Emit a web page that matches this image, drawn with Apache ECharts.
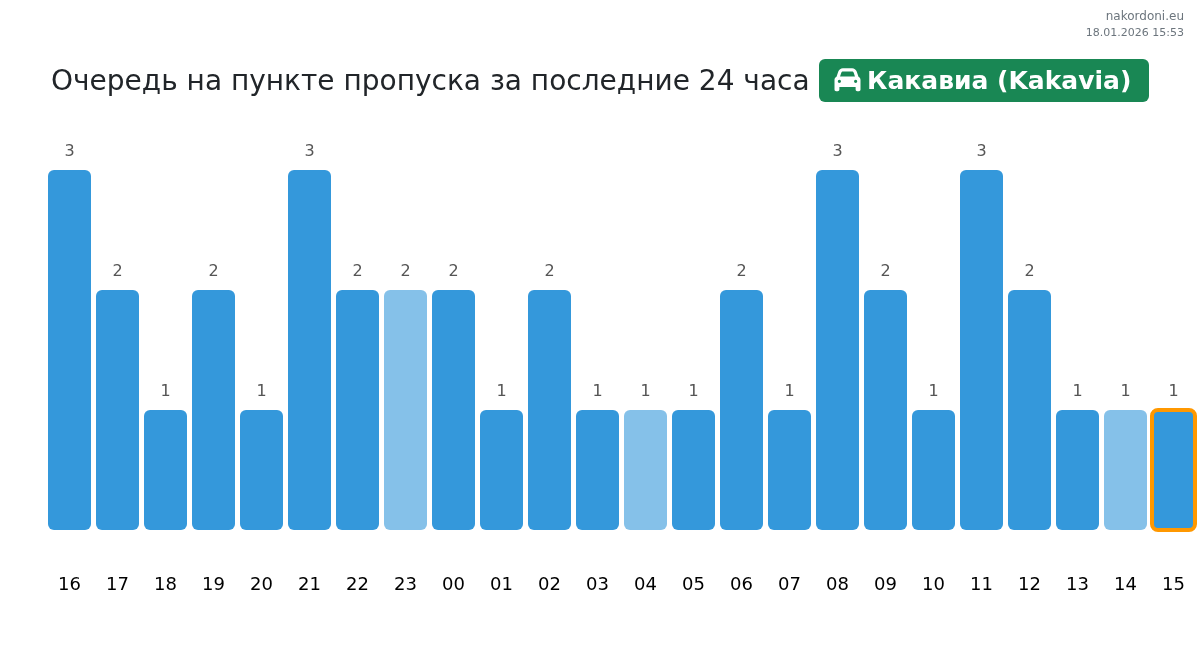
<!DOCTYPE html>
<html>
<head>
<meta charset="utf-8">
<title>Очередь на пункте пропуска</title>
<style>
  html, body { margin: 0; padding: 0; background: #fff; }
  #chart { width: 1200px; height: 651px; }
</style>
<script src="https://cdn.jsdelivr.net/npm/echarts@6/dist/echarts.min.js"></script>
</head>
<body>
<div id="chart"></div>
<script>
  const hours = ['16', '17', '18', '19', '20', '21', '22', '23', '00', '01', '02', '03', '04', '05', '06', '07', '08', '09', '10', '11', '12', '13', '14', '15']
  const queue = [3, 2, 1, 2, 1, 3, 2, 2, 2, 1, 2, 1, 1, 1, 2, 1, 3, 2, 1, 3, 2, 1, 1, 1]
  const lightHours = ['23', '04', '14']
  const currentHour = '15'

  const titleText = 'Очередь на пункте пропуска за последние 24 часа'
  const badgeText = 'Какавиа (Kakavia)'
  const siteText = 'nakordoni.eu'
  const dateText = '18.01.2026 15:53'

  const FONT = '"DejaVu Sans", sans-serif'
  const BAR_W = 43
  const CAR = 'M135.2 117.4L109.1 192H402.9l-26.1-74.6C372.3 104.6 360.2 96 346.6 96H165.4c-13.6 0-25.7 8.6-30.2 21.4zM39.6 196.8L74.8 96.3C88.3 57.8 124.6 32 165.4 32H346.6c40.8 0 77.1 25.8 90.6 64.3l35.2 100.5c23.2 9.6 39.6 32.5 39.6 59.2V400v48c0 17.7-14.3 32-32 32H448c-17.7 0-32-14.3-32-32V400H96v48c0 17.7-14.3 32-32 32H32c-17.7 0-32-14.3-32-32V400 256c0-26.7 16.4-49.6 39.6-59.2zM128 288a32 32 0 1 0 -64 0 32 32 0 1 0 64 0zm288 32a32 32 0 1 0 0-64 32 32 0 1 0 0 64z'

  const barData = queue.map((v, i) => ({
    value: v,
    itemStyle: { color: lightHours.includes(hours[i]) ? '#85c1e9' : '#3498db' }
  }))

  const currentIdx = hours.indexOf(currentHour)

  // outline of the current hour, bar series would shrink it by the border width
  function renderOutline (params, api) {
    const top = api.coord([api.value(0), api.value(1)])
    const base = api.coord([api.value(0), 0])
    return {
      type: 'rect',
      shape: { x: top[0] - BAR_W / 2, y: top[1], width: BAR_W, height: base[1] - top[1], r: 6 },
      style: { fill: 'none', stroke: '#ff9800', lineWidth: 4 }
    }
  }

  const chart = echarts.init(document.querySelector('#chart'), null, { renderer: 'canvas' })
  chart.setOption({
    animation: false,
    backgroundColor: '#fff',
    textStyle: { fontFamily: FONT },
    grid: { left: 45.5, right: 2.5, top: 170, bottom: 121 },
    xAxis: {
      type: 'category',
      data: hours,
      axisLine: { show: false },
      axisTick: { show: false },
      axisLabel: { color: '#000', fontSize: 18, margin: 46, fontFamily: FONT, interval: 0 }
    },
    yAxis: { type: 'value', min: 0, max: 3, interval: 1, show: false },
    series: [{
      type: 'bar',
      data: barData,
      barWidth: BAR_W,
      itemStyle: { borderRadius: 6 },
      label: { show: true, position: 'top', distance: 10, color: '#555', fontSize: 16, fontFamily: FONT }
    }, {
      type: 'custom',
      renderItem: renderOutline,
      data: [[currentIdx, queue[currentIdx]]],
      encode: { x: 0, y: 1 },
      clip: false,
      z: 5
    }],
    graphic: [
      { type: 'text', x: 51, y: 69, style: { text: titleText, fill: '#212529', font: '28px ' + FONT } },
      { type: 'rect', shape: { x: 819, y: 59, width: 330, height: 43, r: 6 }, style: { fill: '#198754' } },
      { type: 'text', x: 867, y: 70, style: { text: badgeText, fill: '#fff', font: 'bold 25px ' + FONT } },
      { type: 'text', x: 1184, y: 11, style: { text: siteText, fill: '#6c757d', font: '12px ' + FONT, textAlign: 'right' } },
      { type: 'text', x: 1184, y: 28, style: { text: dateText, fill: '#6c757d', font: '11px ' + FONT, textAlign: 'right' } }
    ]
  })

  // car goes straight on the zrender layer so the path itself gets resized
  chart.getZr().add(echarts.graphic.makePath(CAR, { style: { fill: '#fff' }, z: 100 }, { x: 834.5, y: 68.2, width: 26, height: 23 }, 'cover'))
</script>
</body>
</html>
